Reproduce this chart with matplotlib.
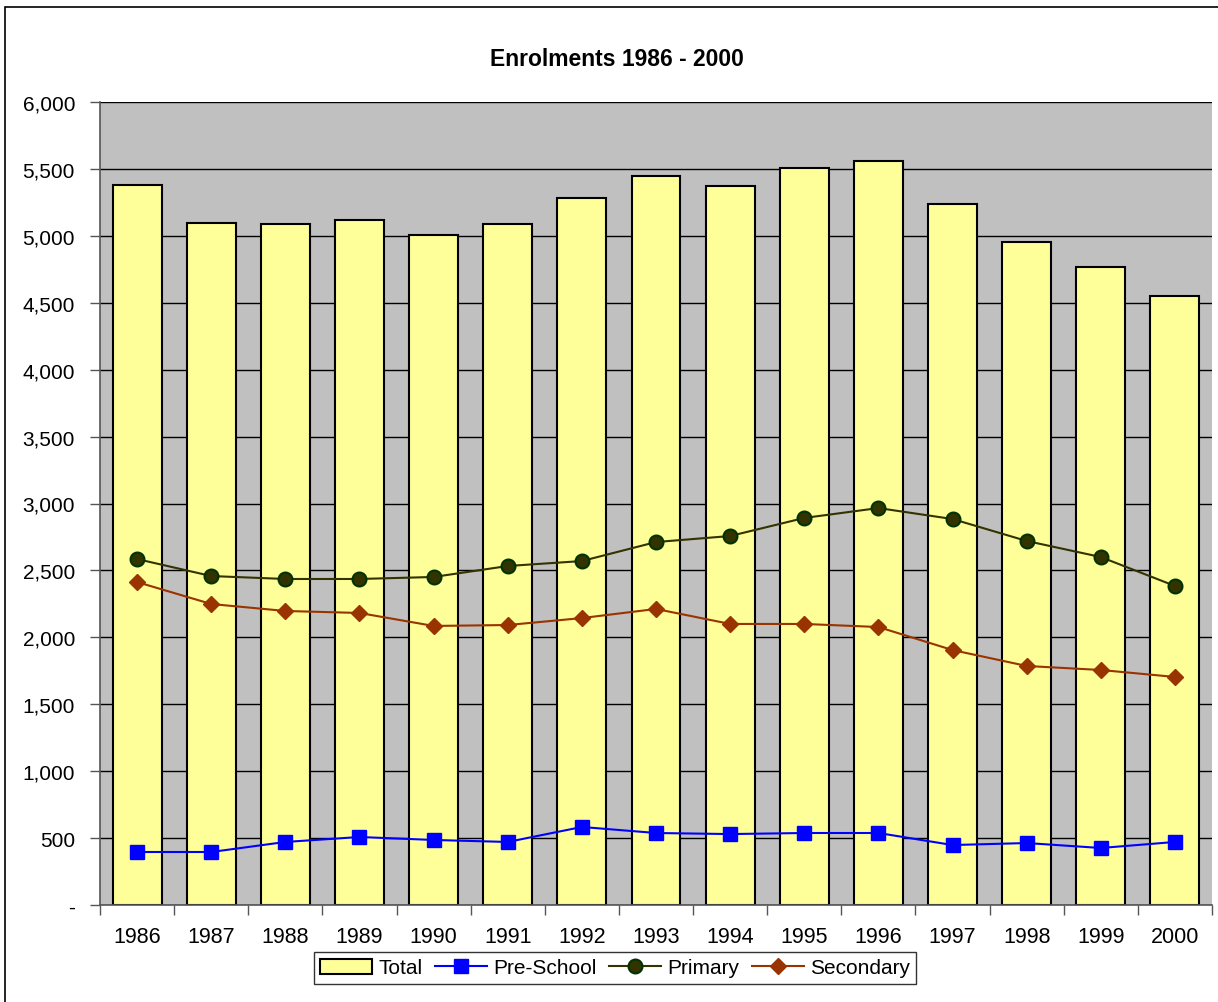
import matplotlib
matplotlib.use("Agg")
import matplotlib.pyplot as plt
from matplotlib.patches import Rectangle
from matplotlib.ticker import FuncFormatter, MultipleLocator, FixedLocator
import numpy as np

years = ["1986", "1987", "1988", "1989", "1990", "1991", "1992", "1993",
         "1994", "1995", "1996", "1997", "1998", "1999", "2000"]
total = [5380, 5096, 5088, 5118, 5006, 5088, 5283, 5447, 5372, 5507, 5559, 5238, 4954, 4767, 4550]
pre_school = [396, 396, 471, 508, 486, 471, 583, 538, 530, 538, 538, 448, 463, 426, 471]
primary = [2585, 2458, 2436, 2436, 2451, 2533, 2570, 2712, 2757, 2892, 2966, 2884, 2720, 2600, 2384]
secondary = [2413, 2249, 2197, 2182, 2085, 2092, 2144, 2212, 2100, 2100, 2077, 1905, 1786, 1756, 1704]

plt.rcParams['font.family'] = ['Liberation Sans', 'DejaVu Sans']

W, H = 1218, 1003
fig = plt.figure(figsize=(W / 100, H / 100), dpi=100)
fig.patches.append(Rectangle((5 / W, 1 - 1010 / H), 1.0, (1010 - 8) / H,
                             transform=fig.transFigure, fill=False,
                             edgecolor='black', linewidth=1.2, clip_on=False))

ax = fig.add_axes([100 / W, 1 - 906 / H, 1112 / W, (906 - 103) / H])
ax.set_facecolor('#C0C0C0')
x = np.arange(len(years))

h_total = ax.bar(x, total, width=0.66, color='#FFFF99', edgecolor='black', linewidth=1.5,
                 label='Total', zorder=2)
h_pre, = ax.plot(x, pre_school, color='#0000FF', marker='s', markersize=10, linewidth=1.5,
                 label='Pre-School', zorder=3)
h_pri, = ax.plot(x, primary, color='#333300', marker='o', markersize=10, markerfacecolor='#333300',
                 markeredgecolor='#003300', markeredgewidth=1.5, linewidth=1.5,
                 label='Primary', zorder=3)
h_sec, = ax.plot(x, secondary, color='#993300', marker='D', markersize=8, linewidth=1.5,
                 label='Secondary', zorder=3)

ax.set_xlim(-0.5, len(years) - 0.5)
ax.set_ylim(0, 6000)
ax.yaxis.set_major_locator(MultipleLocator(500))
ax.yaxis.set_major_formatter(FuncFormatter(lambda v, p: '-' if v == 0 else f'{int(v):,}'))
ax.grid(axis='y', color='black', linewidth=1, zorder=1)
ax.set_axisbelow(True)

ax.xaxis.set_major_locator(FixedLocator(np.arange(-0.5, len(years), 1.0)))
ax.xaxis.set_major_formatter(FuncFormatter(lambda v, p: ''))
ax.xaxis.set_minor_locator(FixedLocator(x))
ax.set_xticklabels(years, minor=True)
ax.tick_params(axis='x', which='major', length=7, color='#555555', width=1)
ax.tick_params(axis='x', which='minor', length=0, labelsize=15.5, pad=15)
ax.tick_params(axis='y', length=7, color='#555555', width=1, labelsize=15, pad=11)

for s in ['top', 'right']:
    ax.spines[s].set_visible(False)
for s in ['left', 'bottom']:
    ax.spines[s].set_color('#555555')
    ax.spines[s].set_linewidth(1.2)

fig.text(617 / W, 1 - 59 / H, 'Enrolments 1986 - 2000', ha='center', va='center',
         fontsize=16.5, fontweight='bold')

leg = fig.legend([h_total, h_pre, h_pri, h_sec], ['Total', 'Pre-School', 'Primary', 'Secondary'],
                 loc='center', bbox_to_anchor=(615 / W, 1 - 969 / H), ncol=4,
                 frameon=True, fancybox=False, edgecolor='black', fontsize=15,
                 handlelength=2.5, handletextpad=0.3, columnspacing=0.6,
                 borderpad=0.3)
leg.get_frame().set_linewidth(1)

fig.savefig('out.png', dpi=100)
